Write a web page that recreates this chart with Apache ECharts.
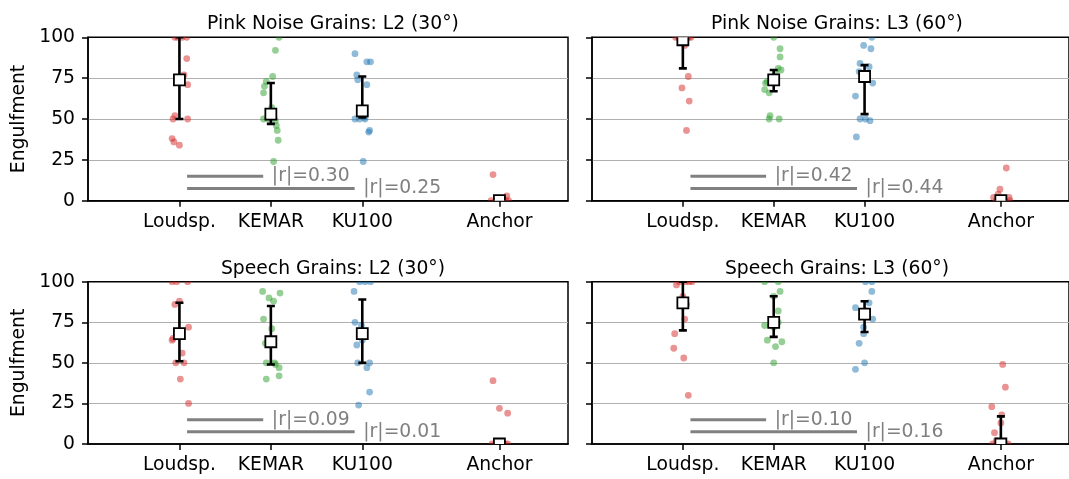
<!DOCTYPE html>
<html><head><meta charset="utf-8">
<script src="https://cdn.jsdelivr.net/npm/echarts@6/dist/echarts.min.js"></script>
<style>html,body{margin:0;padding:0;background:#fff}#c{width:1069px;height:479px}</style>
</head><body><div id="c"></div>
<script>
// ---------- data ----------
const categories = ['Loudsp.', 'KEMAR', 'KU100', 'Anchor'];
const categoryPos = [0, 1, 2, 3.5];
const yTicks = [0, 25, 50, 75, 100];
const titles = ['Pink Noise Grains: L2 (30°)', 'Pink Noise Grains: L3 (60°)',
                'Speech Grains: L2 (30°)', 'Speech Grains: L3 (60°)'];

// Pink noise, L2
const pinkL2_loudsp = [100,100,100,100,87,77,71,52,50,50,38,36,34];
const pinkL2_kemar  = [100,92,76,73,70,66,57,50,50,49,46,43,37,24];
const pinkL2_ku100  = [90,85,85,77,74,71,51,50,50,50,43,42,24];
const pinkL2_anchor = [16,3,0,0,0,0,0,0];
const pinkL2_center = [74,53,55,0];
const pinkL2_low    = [50,47,51,0];
const pinkL2_high   = [100,72,76,0];
const pinkL2_r      = ['0.30','0.25'];

// Pink noise, L3
const pinkL3_loudsp = [100,100,100,100,100,100,100,100,95,76,69,61,43];
const pinkL3_kemar  = [100,93,88,81,80,78,73,72,68,66,52,50,50];
const pinkL3_ku100  = [100,95,93,84,82,79,76,72,64,50,50,49,39];
const pinkL3_anchor = [20,7,4,2,2,0,0,0,0];
const pinkL3_center = [98.5,74,76,0];
const pinkL3_low    = [81,67,53,0];
const pinkL3_high   = [100,80,83,1];
const pinkL3_r      = ['0.42','0.44'];

// Speech, L2
const speechL2_loudsp = [100,100,100,88,86,72,65,64,56,50,50,40,25];
const speechL2_kemar  = [94,93,90,88,77,71,62,50,50,49,47,42,40];
const speechL2_ku100  = [100,100,100,94,75,73,64,61,50,50,47,32,24];
const speechL2_anchor = [39,22,19,0,0,0,0,0,0];
const speechL2_center = [68,63,68,0];
const speechL2_low    = [51,49,50,0];
const speechL2_high   = [87,85,89,0];
const speechL2_r      = ['0.09','0.01'];

// Speech, L3
const speechL3_loudsp = [100,100,100,100,98,91,86,77,68,59,53,30];
const speechL3_kemar  = [100,100,94,91,82,75,73,72,64,63,60,50];
const speechL3_ku100  = [100,100,94,87,84,82,77,72,68,62,50,46];
const speechL3_anchor = [49,35,23,18,13,7,2,0,0,0,0];
const speechL3_center = [87,75,80,0];
const speechL3_low    = [70,66,69,0];
const speechL3_high   = [100,91,88,17];
const speechL3_r      = ['0.10','0.16'];

// strip-plot jitter (horizontal offsets)
const jit_pinkL2 = [
  [-0.05,-0.02,0.03,0.08,0.08,0.05,0.09,-0.05,-0.07,0.09,-0.08,-0.06,0.0],
  [0.09,0.05,0.02,-0.05,-0.07,-0.08,0.01,-0.08,-0.03,0.05,0.06,0.07,0.08,0.03],
  [-0.08,0.05,0.09,-0.06,-0.05,0.05,0.02,-0.08,-0.03,0.03,0.08,0.07,0.01],
  [-0.07,0.08,-0.09,-0.04,0.0,0.04,0.07,0.1]];
const jit_pinkL3 = [
  [-0.08,-0.05,-0.02,0.01,0.03,0.05,0.07,0.09,0.02,0.06,-0.01,0.07,0.04],
  [0.0,0.07,0.07,0.05,0.08,0.02,-0.07,-0.09,-0.1,-0.05,-0.04,-0.05,0.06],
  [0.08,-0.01,0.07,-0.05,0.05,-0.06,0.0,0.09,-0.1,-0.05,0.01,0.06,-0.09],
  [0.06,-0.01,-0.03,-0.08,0.09,-0.05,0.0,0.05,0.1]];
const jit_speechL2 = [
  [-0.08,-0.03,0.09,0.0,-0.05,0.1,-0.07,-0.08,0.03,-0.04,0.05,0.01,0.1],
  [-0.09,0.1,-0.02,0.03,-0.08,0.01,-0.06,-0.05,0.04,0.05,0.09,0.09,-0.05],
  [-0.03,0.03,0.09,-0.09,-0.08,-0.01,0.0,-0.06,-0.05,0.08,0.05,0.08,-0.04],
  [-0.07,0.0,0.09,-0.08,-0.04,0.0,0.03,0.06,0.09]];
const jit_speechL3 = [
  [-0.04,0.03,0.07,0.1,-0.07,0.0,0.04,0.02,-0.09,-0.1,0.01,0.06],
  [-0.1,0.05,0.07,0.0,0.05,0.05,-0.1,0.0,-0.07,0.09,0.02,0.0],
  [0.01,0.08,0.08,0.05,-0.1,0.02,0.09,-0.01,-0.01,-0.06,0.0,-0.1],
  [0.02,0.05,-0.1,0.01,0.0,-0.07,-0.05,-0.09,-0.03,0.04,0.08]];

// ---------- layout / style ----------
const FONT = 'DejaVu Sans';
const FS = 18.75;
const groupColors = ['#d62728', '#2ca02c', '#1f77b4', '#d62728'];
const rLevels = [15, 7.5];
const grids = [
  {left: 88,  top: 37.3,  width: 480, height: 163.4},
  {left: 592, top: 37.3,  width: 480, height: 163.4},
  {left: 88,  top: 281.7, width: 480, height: 162.3},
  {left: 592, top: 281.7, width: 480, height: 162.3}
];
const panels = [
  {groups: [pinkL2_loudsp, pinkL2_kemar, pinkL2_ku100, pinkL2_anchor], jit: jit_pinkL2,
   center: pinkL2_center, low: pinkL2_low, high: pinkL2_high, r: pinkL2_r},
  {groups: [pinkL3_loudsp, pinkL3_kemar, pinkL3_ku100, pinkL3_anchor], jit: jit_pinkL3,
   center: pinkL3_center, low: pinkL3_low, high: pinkL3_high, r: pinkL3_r},
  {groups: [speechL2_loudsp, speechL2_kemar, speechL2_ku100, speechL2_anchor], jit: jit_speechL2,
   center: speechL2_center, low: speechL2_low, high: speechL2_high, r: speechL2_r},
  {groups: [speechL3_loudsp, speechL3_kemar, speechL3_ku100, speechL3_anchor], jit: jit_speechL3,
   center: speechL3_center, low: speechL3_low, high: speechL3_high, r: speechL3_r}
];

const chart = echarts.init(document.getElementById('c'), null, {renderer: 'canvas'});

const option = {
  animation: false,
  backgroundColor: '#fff',
  title: grids.map((g, i) => ({
    text: titles[i], left: g.left + g.width / 2, top: g.top - 27.5, textAlign: 'center',
    textStyle: {fontFamily: FONT, fontSize: FS, fontWeight: 'normal', color: '#000'}
  })),
  grid: grids.map(g => Object.assign({show: true, borderColor: '#000', borderWidth: 1.5,
    backgroundColor: 'transparent'}, g)),
  xAxis: grids.map((g, i) => ({
    gridIndex: i, type: 'value', min: -1, max: 4.25,
    axisLine: {show: true, onZero: false, lineStyle: {color: '#000', width: 1.5}},
    axisTick: {show: true, length: 6, customValues: categoryPos, lineStyle: {color: '#000', width: 1.5}},
    axisLabel: {show: true, customValues: categoryPos, margin: 12,
      formatter: v => { const k = categoryPos.indexOf(v); return k >= 0 ? categories[k] : ''; },
      fontFamily: FONT, fontSize: FS, color: '#000'},
    splitLine: {show: false}
  })),
  yAxis: grids.map((g, i) => ({
    gridIndex: i, type: 'value', min: 0, max: 100, interval: 25,
    name: (i % 2 === 0) ? 'Engulfment' : '', nameLocation: 'middle', nameGap: 59,
    nameTextStyle: {fontFamily: FONT, fontSize: FS, color: '#000'},
    axisLine: {show: true, onZero: false, lineStyle: {color: '#000', width: 1.5}},
    axisTick: {show: true, length: 6, lineStyle: {color: '#000', width: 1.5}},
    axisLabel: {show: i % 2 === 0, margin: 13, fontFamily: FONT, fontSize: FS, color: '#000'},
    splitLine: {show: true, showMinLine: false, showMaxLine: false,
      lineStyle: {color: '#b0b0b0', width: 1.2}}
  })),
  series: []
};

panels.forEach((p, gi) => {
  // jittered points
  p.groups.forEach((vals, k) => {
    const jit = p.jit[k];
    option.series.push({
      type: 'custom', xAxisIndex: gi, yAxisIndex: gi, clip: true, z: 2,
      data: vals.map((v, i) => [categoryPos[k] + jit[i], v]),
      renderItem: (params, api) => {
        const c = api.coord([api.value(0), api.value(1)]);
        return {type: 'circle', shape: {cx: c[0], cy: c[1], r: 3.4},
                style: {fill: groupColors[k], opacity: 0.5}};
      }
    });
  });
  // correlation annotation lines
  option.series.push({
    type: 'custom', xAxisIndex: gi, yAxisIndex: gi, clip: false, z: 3,
    data: [[0, 1, rLevels[0]], [0, 2, rLevels[1]]],
    renderItem: (params, api) => {
      const a = api.coord([api.value(0) + 0.1, api.value(2)]);
      const b = api.coord([api.value(1) - 0.1, api.value(2)]);
      const t = api.coord([api.value(1), api.value(2)]);
      return {type: 'group', children: [
        {type: 'line', shape: {x1: a[0], y1: a[1], x2: b[0], y2: b[1]},
         style: {stroke: '#808080', lineWidth: 3, lineCap: 'square'}},
        {type: 'text', x: t[0] + 1, y: t[1],
         style: {text: '|r|=' + p.r[params.dataIndex], fill: '#808080',
                 font: FS + 'px "' + FONT + '"', align: 'left', verticalAlign: 'middle'}}
      ]};
    }
  });
  // error bars + summary markers
  option.series.push({
    type: 'custom', xAxisIndex: gi, yAxisIndex: gi, clip: true, z: 5,
    data: categoryPos.map((x, i) => [x, p.center[i], p.low[i], p.high[i]]),
    renderItem: (params, api) => {
      const c = api.coord([api.value(0), api.value(1)]);
      const lo = api.coord([api.value(0), api.value(2)]);
      const hi = api.coord([api.value(0), api.value(3)]);
      const cw = 4, s = 5.5;
      const st = {stroke: '#000', lineWidth: 2.6};
      return {type: 'group', children: [
        {type: 'line', shape: {x1: lo[0], y1: lo[1], x2: hi[0], y2: hi[1]}, style: st},
        {type: 'line', shape: {x1: lo[0] - cw, y1: lo[1], x2: lo[0] + cw, y2: lo[1]}, style: st},
        {type: 'line', shape: {x1: hi[0] - cw, y1: hi[1], x2: hi[0] + cw, y2: hi[1]}, style: st},
        {type: 'rect', shape: {x: c[0] - s, y: c[1] - s, width: 2 * s, height: 2 * s},
         style: {fill: '#fff', stroke: '#000', lineWidth: 1.8}}
      ]};
    }
  });
});

chart.setOption(option);
</script>
</body></html>
